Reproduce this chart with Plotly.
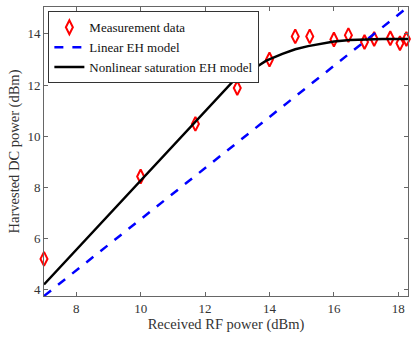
import plotly.graph_objects as go

# measured points (received RF power dBm, harvested DC power dBm)
meas_x = [7.0, 10.0, 11.7, 13.0, 14.0, 14.8, 15.25, 16.0, 16.45, 16.95, 17.25, 17.75, 18.05, 18.25]
meas_y = [5.2, 8.42, 10.48, 11.88, 13.0, 13.9, 13.9, 13.78, 13.95, 13.68, 13.8, 13.83, 13.63, 13.8]

# linear EH model
lin_x = [7.0, 18.3]
lin_y = [3.75, 15.05]

# nonlinear saturation EH model
nl_x = [7.0, 12.85, 13.4, 13.9, 14.4, 14.8, 15.2, 15.6, 16.0, 16.5, 17.0, 17.5, 18.3]
nl_y = [4.2, 12.12, 12.55, 12.95, 13.22, 13.4, 13.52, 13.62, 13.7, 13.76, 13.79, 13.8, 13.8]

serif = "Liberation Serif, Times New Roman, serif"
grey = "#333333"

fig = go.Figure()

fig.add_trace(
    go.Scatter(
        x=meas_x, y=meas_y, mode="markers", name="Measurement data", cliponaxis=False,
        marker=dict(symbol="diamond-tall-open", size=10, color="red", line=dict(width=2, color="red")),
    )
)
fig.add_trace(
    go.Scatter(
        x=lin_x, y=lin_y, mode="lines", name="Linear EH model",
        line=dict(color="blue", width=2.5, dash="dash"),
    )
)
fig.add_trace(
    go.Scatter(
        x=nl_x, y=nl_y, mode="lines", name="Nonlinear saturation EH model",
        line=dict(color="black", width=2.5),
    )
)

axis_style = dict(
    showline=True, mirror="ticks", linecolor="#666666", linewidth=1,
    ticks="inside", ticklen=4, tickcolor="#666666",
    showgrid=False, zeroline=False,
    tickfont=dict(family=serif, size=13, color=grey),
)

fig.update_xaxes(
    range=[7, 18.3], tickvals=[8, 10, 12, 14, 16, 18],
    title=dict(text="Received RF power (dBm)", font=dict(family=serif, size=14.5, color=grey), standoff=4),
    **axis_style,
)
fig.update_yaxes(
    range=[3.75, 15.05], tickvals=[4, 6, 8, 10, 12, 14],
    title=dict(text="Harvested DC power (dBm)", font=dict(family=serif, size=14.5, color=grey), standoff=4),
    **axis_style,
)

fig.update_layout(
    width=416, height=337,
    margin=dict(l=44, r=8, t=7, b=41),
    plot_bgcolor="white", paper_bgcolor="white",
    showlegend=True,
    legend=dict(
        x=0.012, y=0.985, xanchor="left", yanchor="top",
        bgcolor="white", bordercolor=grey, borderwidth=1,
        font=dict(family=serif, size=13, color="#111111"),
        tracegroupgap=0, itemwidth=30,
    ),
)

fig.write_html(
    "out.html",
    config={"displayModeBar": False},
    post_script="document.body.style.margin='0px';",
)
